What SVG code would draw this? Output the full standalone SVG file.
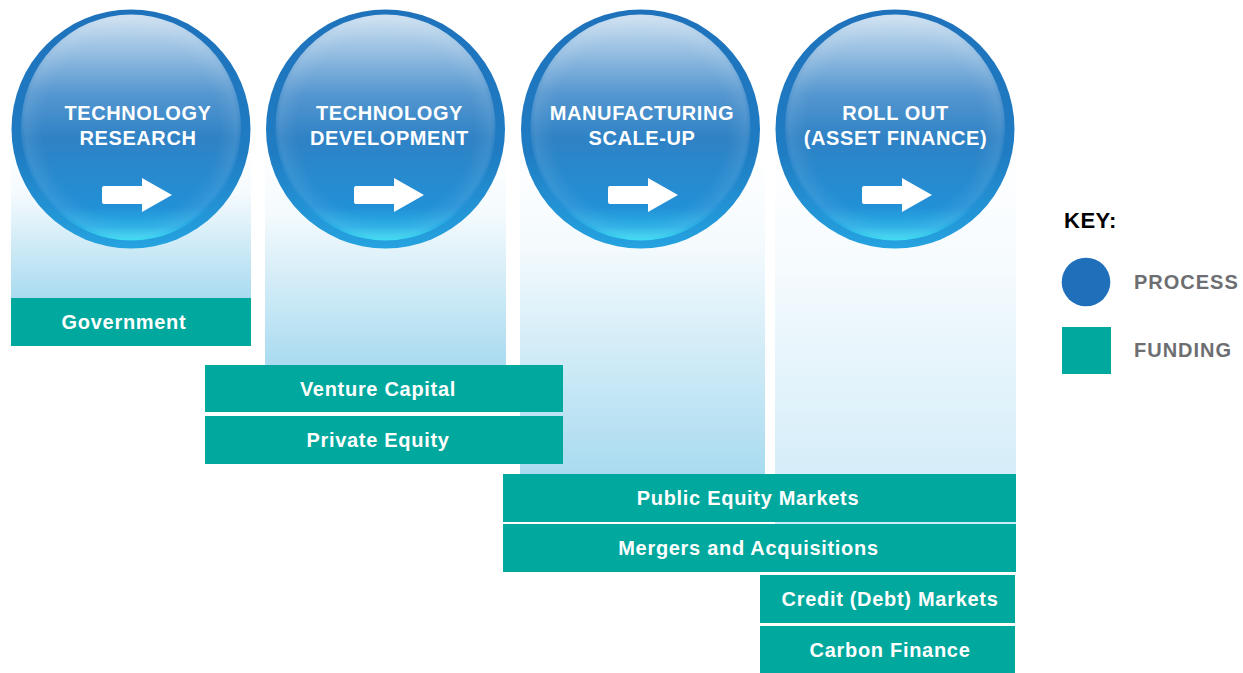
<svg xmlns="http://www.w3.org/2000/svg" width="1243" height="673" viewBox="0 0 1243 673">
<defs>
<linearGradient id="colA" x1="0" y1="0" x2="0" y2="1">
<stop offset="0" stop-color="#ffffff"/>
<stop offset="0.3" stop-color="#f4fafd"/>
<stop offset="1" stop-color="#a9dbf0"/>
</linearGradient>
<linearGradient id="colB" x1="0" y1="0" x2="0" y2="1">
<stop offset="0" stop-color="#ffffff"/>
<stop offset="0.3" stop-color="#f6fbfe"/>
<stop offset="1" stop-color="#cdeaf7"/>
</linearGradient>
<linearGradient id="ring" x1="0" y1="0" x2="0" y2="1">
<stop offset="0" stop-color="#1e72bb"/>
<stop offset="0.6" stop-color="#1f7cc3"/>
<stop offset="1" stop-color="#25a3e0"/>
</linearGradient>
<linearGradient id="disk" x1="0" y1="0" x2="0" y2="1">
<stop offset="0" stop-color="#cfe1f1"/>
<stop offset="0.15" stop-color="#9cc2e3"/>
<stop offset="0.35" stop-color="#5597d0"/>
<stop offset="0.55" stop-color="#2f82c5"/>
<stop offset="0.85" stop-color="#2290d6"/>
<stop offset="0.94" stop-color="#28aee5"/>
<stop offset="1" stop-color="#3fdcf3"/>
</linearGradient>
<radialGradient id="glow" cx="0.5" cy="0.5" r="0.5">
<stop offset="0.8" stop-color="#ffffff" stop-opacity="0"/>
<stop offset="0.96" stop-color="#ffffff" stop-opacity="0.08"/>
<stop offset="1" stop-color="#ffffff" stop-opacity="0"/>
</radialGradient>
<path id="arrow" d="M-29,-7 Q-29,-9 -27,-9 L11,-9 L11,-17 L41,0 L11,17 L11,9 L-27,9 Q-29,9 -29,7 Z"/>
</defs>
<style>
.ptext{font-family:"Liberation Sans",Arial,sans-serif;font-weight:bold;font-size:20px;fill:#ffffff;text-anchor:middle;letter-spacing:0.6px}
.ftext{font-family:"Liberation Sans",Arial,sans-serif;font-weight:bold;font-size:20px;fill:#ffffff;text-anchor:middle;letter-spacing:0.7px}
.fund{fill:#00a89d}
.ktext{font-family:"Liberation Sans",Arial,sans-serif;font-weight:bold;font-size:20px;fill:#6d6e71;letter-spacing:1px}
.arr{fill:#ffffff}
</style>
<rect width="1243" height="673" fill="#ffffff"/>

<g id="columns">
<rect x="11" y="150" width="240" height="148" fill="url(#colA)"/>
<rect x="265" y="150" width="241" height="215" fill="url(#colA)"/>
<rect x="520" y="150" width="245" height="324" fill="url(#colA)"/>
<rect x="775" y="150" width="241" height="374" fill="url(#colB)"/>
</g>

<g id="process-technology-research">
<circle cx="131" cy="129" r="119.5" fill="url(#ring)"/>
<ellipse cx="131" cy="127.5" rx="110" ry="113" fill="url(#disk)"/>
<ellipse cx="131" cy="127.5" rx="110" ry="113" fill="url(#glow)"/>
<text class="ptext" x="138" y="119.5">TECHNOLOGY</text>
<text class="ptext" x="138" y="145">RESEARCH</text>
<use href="#arrow" class="arr" x="131" y="195"/>
</g>

<g id="process-technology-development">
<circle cx="385.5" cy="129" r="119.5" fill="url(#ring)"/>
<ellipse cx="385.5" cy="127.5" rx="110" ry="113" fill="url(#disk)"/>
<ellipse cx="385.5" cy="127.5" rx="110" ry="113" fill="url(#glow)"/>
<text class="ptext" x="389.5" y="119.5">TECHNOLOGY</text>
<text class="ptext" x="389.5" y="145">DEVELOPMENT</text>
<use href="#arrow" class="arr" x="383" y="195"/>
</g>

<g id="process-manufacturing-scale-up">
<circle cx="640.5" cy="129" r="119.5" fill="url(#ring)"/>
<ellipse cx="640.5" cy="127.5" rx="110" ry="113" fill="url(#disk)"/>
<ellipse cx="640.5" cy="127.5" rx="110" ry="113" fill="url(#glow)"/>
<text class="ptext" x="642" y="119.5">MANUFACTURING</text>
<text class="ptext" x="642" y="145">SCALE-UP</text>
<use href="#arrow" class="arr" x="637" y="195"/>
</g>

<g id="process-roll-out">
<circle cx="895" cy="129" r="119.5" fill="url(#ring)"/>
<ellipse cx="895" cy="127.5" rx="110" ry="113" fill="url(#disk)"/>
<ellipse cx="895" cy="127.5" rx="110" ry="113" fill="url(#glow)"/>
<text class="ptext" x="895.5" y="119.5">ROLL OUT</text>
<text class="ptext" x="895.5" y="145">(ASSET FINANCE)</text>
<use href="#arrow" class="arr" x="891" y="195"/>
</g>

<g id="connectors"></g>

<g id="funding-government">
<rect class="fund" x="11" y="298" width="240" height="48"/>
<text class="ftext" x="124" y="329">Government</text>
</g>
<g id="funding-venture-capital">
<rect class="fund" x="205" y="365" width="358" height="47"/>
<text class="ftext" x="378" y="396">Venture Capital</text>
</g>
<g id="funding-private-equity">
<rect class="fund" x="205" y="416" width="358" height="48"/>
<text class="ftext" x="378" y="447">Private Equity</text>
</g>
<g id="funding-public-equity-markets">
<rect class="fund" x="503" y="474" width="513" height="48"/>
<text class="ftext" x="748" y="505">Public Equity Markets</text>
</g>
<g id="funding-mergers-acquisitions">
<rect class="fund" x="503" y="524" width="513" height="48"/>
<text class="ftext" x="748.5" y="555">Mergers and Acquisitions</text>
</g>
<g id="funding-credit-markets">
<rect class="fund" x="760" y="575" width="255" height="48"/>
<text class="ftext" x="890" y="606">Credit (Debt) Markets</text>
</g>
<g id="funding-carbon-finance">
<rect class="fund" x="760" y="626" width="255" height="47"/>
<text class="ftext" x="890" y="657">Carbon Finance</text>
</g>

<g id="key">
<text x="1064" y="228" font-family="Liberation Sans, Arial, sans-serif" font-weight="bold" font-size="22" fill="#000000" letter-spacing="0.5">KEY:</text>
<circle cx="1086" cy="282" r="24.3" fill="#1f6fbb"/>
<text class="ktext" x="1134" y="289">PROCESS</text>
<rect class="fund" x="1062" y="327" width="49" height="47"/>
<text class="ktext" x="1134" y="357">FUNDING</text>
</g>
</svg>
